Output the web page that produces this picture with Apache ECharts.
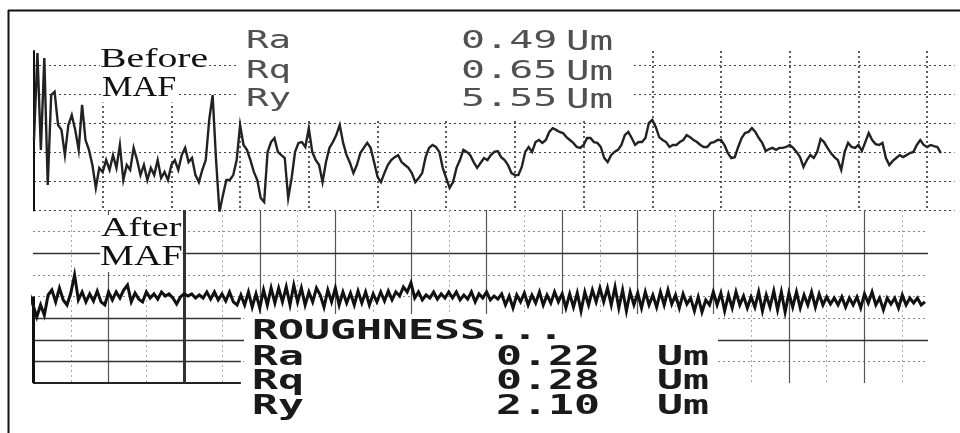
<!DOCTYPE html>
<html>
<head>
<meta charset="utf-8">
<script src="https://cdn.jsdelivr.net/npm/echarts@6/dist/echarts.min.js"></script>
<style>
  html, body { margin: 0; padding: 0; background: #fff; }
  #chart { width: 960px; height: 433px; }
</style>
</head>
<body>
<div id="chart"></div>
<script>
// Sampling step along each trace, in chart divisions
const STEP = 0.05;

// Surface profile before MAF (µm), one sample every STEP divisions from x = 0
const beforeProfile = [
  2.43,5.43,2.09,5.26,0.88,3.98,4.09,2.95,2.78,1.91,
  2.95,3.29,2.78,2.09,3.64,2.43,2.09,1.57,0.78,1.47,
  1.33,1.74,1.40,1.91,1.47,2.26,1.05,1.57,1.40,2.16,
  1.74,1.22,1.57,1.05,1.47,1.22,1.74,1.12,1.33,1.05,
  1.57,1.74,1.40,1.91,2.16,1.67,1.81,1.22,0.98,1.40,
  1.74,3.12,3.98,1.74,-0.05,0.53,1.05,1.05,1.22,1.74,
  2.95,2.26,2.09,1.74,1.33,1.05,0.43,0.29,2.02,2.36,
  2.50,2.02,1.91,1.81,0.43,1.12,2.02,2.33,2.36,2.19,
  2.84,2.02,1.74,1.57,0.98,1.67,2.16,2.36,2.60,2.95,
  2.33,1.91,1.64,1.29,1.57,1.98,2.16,2.33,2.16,1.67,
  1.16,0.98,1.29,1.57,1.74,1.84,1.91,1.67,1.57,1.47,
  1.29,0.98,1.12,1.29,1.84,2.16,2.26,2.19,2.02,1.47,
  1.12,0.78,0.98,1.47,1.74,2.09,2.02,1.91,1.67,1.47,
  1.64,1.81,1.74,1.91,2.02,2.05,1.84,1.74,1.57,1.29,
  1.22,1.22,1.50,2.02,2.19,2.02,2.36,2.43,2.33,2.43,
  2.71,2.84,2.78,2.71,2.67,2.53,2.43,2.33,2.19,2.16,
  2.26,2.50,2.50,2.36,2.33,2.19,1.81,1.67,1.91,2.02,
  2.09,2.26,2.60,2.71,2.50,2.26,2.36,2.36,2.50,3.02,
  3.12,2.88,2.53,2.43,2.36,2.19,2.26,2.26,2.36,2.43,
  2.60,2.53,2.43,2.36,2.26,2.19,2.19,2.33,2.36,2.43,
  2.43,2.26,1.98,1.81,1.84,2.19,2.50,2.67,2.71,2.84,
  2.71,2.50,2.33,2.05,2.12,2.16,2.09,2.16,2.16,2.19,
  2.26,2.16,2.02,1.84,1.50,1.74,1.91,1.81,2.02,2.47,
  2.36,2.16,1.98,1.84,1.74,1.40,2.02,2.33,2.19,2.16,
  2.26,2.05,2.36,2.67,2.43,2.29,2.26,2.33,1.81,1.57,
  1.71,1.81,1.91,1.84,1.91,1.98,2.02,2.26,2.43,2.26,
  2.19,2.26,2.22,2.19,1.98
];

// Surface profile after MAF (deviation from mean line), one sample every STEP from AFTER_START
const AFTER_START = -0.2;
const afterProfile = [
  0.07,0.16,-0.16,0.16,-0.39,-0.95,-0.39,-0.86,0.07,0.30,
  -0.25,0.39,-0.16,-0.39,0.16,1.00,-0.16,0.21,-0.25,0.12,
  -0.21,0.25,-0.25,-0.39,0.21,-0.16,0.21,-0.07,0.30,0.53,
  -0.25,0.16,-0.12,-0.25,0.21,-0.07,0.12,-0.12,0.21,0.02,
  0.12,-0.07,-0.35,-0.02,0.12,0.02,0.12,-0.07,0.07,-0.07,
  0.21,-0.12,0.21,-0.16,0.12,-0.21,0.21,-0.25,-0.39,0.07,
  -0.39,0.21,-0.49,0.12,-0.53,0.30,-0.39,0.39,-0.30,0.39,
  -0.25,0.44,-0.39,0.53,-0.25,0.39,-0.39,0.21,-0.25,0.39,
  0.07,-0.49,0.30,-0.25,0.39,-0.39,0.21,-0.30,0.16,-0.39,
  0.25,-0.30,0.21,-0.39,0.12,-0.25,0.21,-0.21,0.25,-0.16,
  0.21,0.02,0.44,0.21,0.63,-0.07,0.21,-0.16,0.07,-0.07,
  0.21,-0.12,0.12,-0.07,0.21,-0.07,0.21,-0.16,0.07,-0.12,
  0.21,-0.25,0.12,-0.07,0.21,-0.16,0.02,-0.12,0.12,-0.39,
  0.02,-0.53,0.07,-0.25,0.16,-0.39,0.07,-0.30,0.21,-0.39,
  0.07,-0.30,0.21,-0.25,0.12,-0.53,0.12,-0.49,0.16,-0.67,
  0.21,-0.39,0.30,-0.25,0.39,-0.25,0.39,-0.39,0.44,-0.53,
  0.30,-0.67,0.21,-0.39,0.16,-0.53,0.21,-0.39,0.07,-0.49,
  0.21,-0.39,0.30,-0.35,0.07,-0.53,0.12,-0.35,-0.07,-0.67,
  -0.02,-0.72,-0.16,-0.39,0.21,-0.39,0.16,-0.67,0.07,-0.53,
  0.21,-0.39,0.02,-0.53,-0.02,-0.49,0.21,-0.67,0.07,-0.49,
  0.25,-0.62,0.21,-0.72,0.16,-0.49,0.21,-0.53,0.07,-0.39,
  0.21,-0.49,0.12,-0.39,-0.02,-0.35,-0.07,-0.39,-0.02,-0.49,
  -0.07,-0.39,-0.02,-0.53,0.12,-0.30,0.21,-0.39,-0.07,-0.62,
  -0.07,-0.35,-0.07,-0.53,0.07,-0.39,-0.07,-0.30,-0.07,-0.39,
  -0.25
];

// Roughness parameters printed with each trace
const paramNames = ['Ra', 'Rq', 'Ry'];
const beforeValues = ['0.49', '0.65', '5.55'];
const afterValues = ['0.22', '0.28', '2.10'];
const UNIT = 'Um';

const beforeData = beforeProfile.map((v, i) => [+(i * STEP).toFixed(3), v]);
const afterData = afterProfile.map((v, i) => [+(AFTER_START + i * STEP).toFixed(3), v]);

const SERIF = '"Liberation Serif", "DejaVu Serif", serif';
const MONO = '"DejaVu Sans Mono", "Liberation Mono", monospace';

function label(text, x, y, opts) {
  opts = opts || {};
  return {
    type: 'text', x: x, y: y, z: 60,
    scaleX: opts.scaleX || 1,
    style: {
      text: text, x: 0, y: 0,
      font: opts.font,
      fill: opts.fill || '#111',
      align: 'left', verticalAlign: 'middle',
      textAlign: 'left', textVerticalAlign: 'middle',
      backgroundColor: opts.bg || null
    }
  };
}

const graphics = [
  // blank panels behind the printed parameter blocks
  { type: 'rect', z: 50, shape: { x: 239, y: 14, width: 392, height: 105 }, style: { fill: '#fff' } },
  { type: 'rect', z: 50, shape: { x: 244, y: 314, width: 474, height: 119 }, style: { fill: '#fff' } },
  // page frame
  { type: 'line', z: 60, shape: { x1: 8, y1: 10.5, x2: 960, y2: 10.5 }, style: { stroke: '#111', lineWidth: 2 } },
  { type: 'line', z: 60, shape: { x1: 8.5, y1: 10, x2: 8.5, y2: 433 }, style: { stroke: '#111', lineWidth: 2 } },
  // trace titles
  label('Before', 100, 60, { font: 'normal 28px ' + SERIF, scaleX: 1.42, bg: '#fff' }),
  label('MAF', 102, 88, { font: 'normal 29px ' + SERIF, scaleX: 1.18, bg: '#fff' }),
  label('After', 101, 229, { font: 'normal 28px ' + SERIF, scaleX: 1.36, bg: '#fff' }),
  label('MAF', 100, 257, { font: 'normal 30px ' + SERIF, scaleX: 1.27, bg: '#fff' })
];

// parameters of the first trace
const topRows = [41, 71, 99];
paramNames.forEach((n, k) => {
  graphics.push(label(n, 246, topRows[k], { font: 'normal 25px ' + MONO, scaleX: 1.5, fill: '#505050' }));
  graphics.push(label(beforeValues[k], 461, topRows[k], { font: 'normal 25px ' + MONO, scaleX: 1.6, fill: '#505050' }));
  graphics.push(label(UNIT, 566, topRows[k] + 2, { font: 'normal 27px ' + MONO, scaleX: 1.45, fill: '#505050' }));
});

// parameters of the second trace
graphics.push(label('ROUGHNESS...', 252, 332, { font: 'bold 27px ' + MONO, scaleX: 1.6, fill: '#1a1a1a' }));
const botRows = [358, 382, 407];
paramNames.forEach((n, k) => {
  graphics.push(label(n, 252, botRows[k], { font: 'bold 27px ' + MONO, scaleX: 1.6, fill: '#1a1a1a' }));
  graphics.push(label(afterValues[k], 496, botRows[k], { font: 'bold 27px ' + MONO, scaleX: 1.6, fill: '#1a1a1a' }));
  graphics.push(label(UNIT, 657, botRows[k], { font: 'bold 27px ' + MONO, scaleX: 1.6, fill: '#1a1a1a' }));
});

const dotted = { color: '#444', width: 1, type: [2, 3] };
const solidGuide = { color: '#333', width: 1.4, type: 'solid' };

const chart = echarts.init(document.getElementById('chart'), null, { renderer: 'canvas' });
chart.setOption({
  animation: false,
  backgroundColor: '#fff',
  grid: [
    { left: 34, right: 5.4, top: 51, bottom: 222.5 },
    { left: 33, right: 32, top: 210, bottom: 50 }
  ],
  xAxis: [
    {
      type: 'value', gridIndex: 0, min: 0, max: 13.4, interval: 1,
      axisLine: { show: false }, axisTick: { show: false }, axisLabel: { show: false },
      splitLine: { show: true, showMinLine: false, showMaxLine: false,
        lineStyle: { color: '#333', width: 1.6, type: [2, 3] } }
    },
    {
      type: 'value', gridIndex: 1, min: 0, max: 11.84, interval: 1,
      axisLine: { show: false }, axisTick: { show: false }, axisLabel: { show: false },
      minorTick: { show: false, splitNumber: 2 },
      splitLine: { show: true, showMinLine: false, showMaxLine: false,
        lineStyle: { color: '#555', width: 1.2, type: 'solid' } },
      minorSplitLine: { show: true, lineStyle: { color: '#aaa', width: 1, type: [2, 3] } }
    }
  ],
  yAxis: [
    {
      type: 'value', gridIndex: 0, min: 0, max: 5.5, interval: 1,
      axisLine: { show: true, onZero: false, lineStyle: { color: '#111', width: 2 } },
      axisTick: { show: false }, axisLabel: { show: false },
      splitLine: { show: true, showMinLine: true, showMaxLine: false, lineStyle: dotted }
    },
    {
      type: 'value', gridIndex: 1, min: -4, max: 4, interval: 1,
      axisLine: { show: false }, axisTick: { show: false }, axisLabel: { show: false },
      splitLine: { show: true, showMinLine: false, showMaxLine: false,
        lineStyle: { color: '#888', width: 1, type: [2, 3] } }
    }
  ],
  series: [
    {
      name: 'Before MAF', type: 'line', xAxisIndex: 0, yAxisIndex: 0, z: 70,
      data: beforeData, showSymbol: false, symbol: 'none',
      lineStyle: { color: '#222', width: 2.4, join: 'miter' }
    },
    {
      // printed frame lines of the lower chart
      name: 'guides', type: 'line', xAxisIndex: 1, yAxisIndex: 1, z: 20, data: [],
      markLine: {
        silent: true, symbol: 'none', label: { show: false },
        data: [
          [{ coord: [0, 2], lineStyle: solidGuide }, { coord: [11.84, 2] }],
          [{ coord: [0, -2], lineStyle: solidGuide }, { coord: [11.84, -2] }],
          [{ coord: [0, -1], lineStyle: solidGuide }, { coord: [2.75, -1] }],
          [{ coord: [0, -3], lineStyle: solidGuide }, { coord: [2.75, -3] }],
          [{ coord: [0, -4], lineStyle: { color: '#222', width: 2, type: 'solid' } }, { coord: [2.75, -4] }],
          [{ coord: [2, 4], lineStyle: { color: '#333', width: 3, type: 'solid' } }, { coord: [2, -4] }],
          [{ coord: [0, 0], lineStyle: { color: '#111', width: 3, type: 'solid' } }, { coord: [0, -4] }]
        ]
      }
    },
    {
      name: 'After MAF', type: 'line', xAxisIndex: 1, yAxisIndex: 1, z: 70, clip: false,
      data: afterData, showSymbol: false, symbol: 'none',
      lineStyle: { color: '#111', width: 3, join: 'miter' }
    }
  ],
  graphic: { elements: graphics }
});
</script>
</body>
</html>
